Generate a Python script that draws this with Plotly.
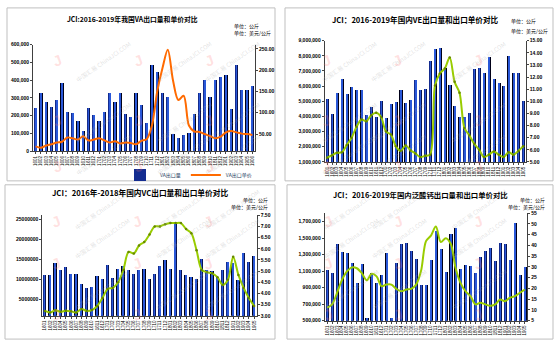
import plotly.graph_objects as go

W, H = 558, 347

# ---------------- data ----------------
months = ["1601", "1602", "1603", "1604", "1605", "1606", "1607", "1608", "1609", "1610", "1611", "1612",
          "1701", "1702", "1703", "1704", "1705", "1706", "1707", "1708", "1709", "1710", "1711", "1712",
          "1801", "1802", "1803", "1804", "1805", "1806", "1807", "1808", "1809", "1810", "1811", "1812",
          "1901", "1902", "1903", "1904", "1905", "1906"]

# VA
va_qty = [245000, 327000, 277000, 250000, 292000, 384000, 222000, 215000, 171000, 117000, 248000, 204000,
          170000, 222000, 327000, 278000, 327000, 211000, 194000, 328000, 262000, 162000, 488000, 448000,
          332000, 305000, 100000, 77000, 92000, 107000, 210000, 327000, 404000, 308000, 404000, 419000,
          432000, 240000, 487000, 349000, 349000, 367000]
va_price = [21, 18, 23, 26, 30, 32, 42, 40, 37, 45, 35, 37,
            40, 35, 30, 33, 28, 30, 29, 26, 34, 38, 70, 150,
            205, 248, 175, 130, 140, 70, 56, 55, 50, 45, 40, 44,
            54, 57, 54, 51, 50, 48]

# VE
ve_qty = [5200000, 4200000, 5550000, 6500000, 5500000, 5950000, 5800000, 5750000, 4150000, 4650000, 4000000, 5050000,
          3900000, 4850000, 4950000, 5750000, 4900000, 5100000, 6400000, 5750000, 5850000, 7700000, 8450000, 8520000,
          7200000, 6080000, 4700000, 4000000, 4000000, 4250000, 7150000, 7230000, 6900000, 7950000, 6500000, 6250000,
          6050000, 8030000, 6900000, 6900000, 5030000]
ve_price = [5.35, 5.55, 5.75, 5.8, 6.4, 7.0, 7.9, 8.5, 8.35, 8.85, 9.05, 8.7,
            7.5, 7.25, 6.3, 5.9, 6.35, 5.95, 5.7, 5.4, 5.5, 5.6, 11.3, 12.3,
            12.7, 13.6, 11.6, 10.7, 7.8, 7.2, 6.5, 6.0, 5.4, 5.6, 5.85, 5.6,
            5.4, 5.8, 5.6, 5.9, 6.3]

# VC
vc_qty = [11200000, 11100000, 14000000, 12200000, 13000000, 11300000, 11400000, 8900000, 7800000, 8200000, 10800000, 10200000,
          13600000, 10400000, 12600000, 13200000, 12200000, 11300000, 12400000, 12600000, 10200000, 11300000, 13200000, 14800000,
          12600000, 24200000, 12200000, 11200000, 10600000, 10100000, 15000000, 12400000, 12000000, 10600000, 12400000, 14400000,
          14000000, 9800000, 16600000, 14400000, 15700000]
vc_price = [3.22, 3.15, 3.25, 3.18, 3.23, 3.2, 3.15, 3.3, 3.22, 3.26, 3.44, 3.8,
            4.2, 4.25, 4.5, 5.05, 5.86, 5.79, 6.15, 6.3, 6.64, 7.0, 7.0, 7.1,
            7.15, 7.15, 7.15, 6.88, 6.7, 5.93, 5.05, 4.95, 4.9, 4.73, 4.38, 4.61,
            5.64, 4.83, 4.25, 3.8, 3.44]

# 泛酸钙
ca_qty = [1114000, 1074000, 1431000, 1332000, 1320000, 1201000, 955000, 1185000, 525000, 1074000, 955000, 1055000,
          1312000, 525000, 1201000, 1431000, 1443000, 1344000, 1243000, 926000, 924000, 1233000, 1577000, 1360000,
          1086000, 1541000, 1617000, 1125000, 1169000, 1161000, 1074000, 1272000, 1339000, 1379000, 1220000, 1439000,
          1423000, 1233000, 1681000, 1047000, 1150000]
ca_price = [11.1, 12.6, 18.0, 24.0, 27.9, 29.8, 29.4, 27.1, 23.8, 26.8, 25.6, 21.0,
            21.8, 21.8, 19.8, 18.7, 19.5, 19.8, 21.8, 28.2, 42.0, 44.6, 48.8, 41.6,
            43.4, 40.8, 29.4, 22.5, 18.7, 16.4, 12.6, 13.4, 12.6, 11.9, 12.6, 14.9,
            14.1, 15.7, 16.4, 18.0, 19.5]

titles = ["JCI:2016-2019年我国VA出口量和单价对比",
          "JCI：2016-2019年国内VE出口量和出口单价对比",
          "JCI：2016年-2018年国内VC出口量和出口单价对比",
          "JCI：2016-2019年国内泛酸钙出口量和出口单价对比"]
unit_qty = "单位：公斤"
unit_price = "单位：美元/公斤"
watermark = "中国汇易 ChinaJCI.COM"

ORANGE = "#FF6A00"
GREEN = "#99CC00"

fig = go.Figure()


def fx(p):
    return p / W


def fy(p):
    return 1 - p / H


# plot-area pixel boxes: (left, right, top, bottom)
panels = [
    dict(box=(33, 255, 42.3, 150.7), qty=va_qty, price=va_price, color=ORANGE, markers=False,
         yl=dict(range=[0, 600000], dtick=100000, tickformat=","),
         yr=dict(range=[10, 260], dtick=50, tickformat=".2f"),
         names=("VA出口量", "VA出口单价")),
    dict(box=(324.7, 525.7, 38.3, 161.7), qty=ve_qty, price=ve_price, color=GREEN, markers=True,
         yl=dict(range=[1000000, 9000000], dtick=1000000, tickformat=","),
         yr=dict(range=[5, 15], dtick=1, tickformat=".2f"),
         names=("出口量", "出口单价")),
    dict(box=(42.3, 256.7, 216, 318.3), qty=vc_qty, price=vc_price, color=GREEN, markers=True,
         yl=dict(range=[1000000, 26000000], dtick=5000000, tickformat="d"),
         yr=dict(range=[3, 7.5], dtick=0.5, tickformat=".2f"),
         names=("出口量", "出口单价")),
    dict(box=(324.7, 527.3, 213.9, 323.3), qty=ca_qty, price=ca_price, color=GREEN, markers=False,
         yl=dict(range=[500000, 1800000], tickvals=[500000, 700000, 900000, 1100000, 1300000, 1500000, 1700000],
                 tickformat=","),
         yr=dict(range=[5, 55], dtick=5, tickformat="d"),
         names=("出口量", "出口单价")),
]

tick_font = dict(family="Liberation Sans, Arial", size=5, color="#000000", weight="bold")
# layered bars give a dark-edged, blue-centred column
layers = [(0.62, "#000018"), (0.46, "#0a1450"), (0.3, "#142c90"), (0.14, "#2a58d8")]

layout_axes = {}
for i, p in enumerate(panels):
    k = i + 1
    xa = "x" if k == 1 else f"x{k}"
    yl = f"y{2 * k - 1}" if k > 1 else "y"
    yr = f"y{2 * k}"
    n = len(p["qty"])
    xs = list(range(1, n + 1))
    for j, (w, c) in enumerate(layers):
        fig.add_trace(go.Bar(x=xs, y=p["qty"], width=w, marker=dict(color=c, line=dict(width=0)),
                             xaxis=xa, yaxis=yl, name=p["names"][0],
                             showlegend=(k == 1 and j == 2), legendgroup=f"q{k}"))
    fig.add_trace(go.Scatter(x=xs, y=p["price"], mode="lines+markers" if p["markers"] else "lines",
                             line=dict(color=p["color"], width=2, shape="spline", smoothing=0.9),
                             marker=dict(size=2.5, color="#668800"),
                             xaxis=xa, yaxis=yr, name=p["names"][1], showlegend=(k == 1)))
    L, R, T, B = p["box"]
    xkey = "xaxis" if k == 1 else f"xaxis{k}"
    ylkey = "yaxis" if k == 1 else f"yaxis{2 * k - 1}"
    yrkey = f"yaxis{2 * k}"
    layout_axes[xkey] = dict(domain=[fx(L), fx(R)], anchor=yl, range=[0.5, n + 0.5],
                             tickvals=xs, ticktext=months[:n], tickangle=-90,
                             tickfont=dict(family="Liberation Sans, Arial", size=4.5, color="#000"),
                             showline=True, linecolor="#404040", linewidth=1, ticks="outside", ticklen=2,
                             showgrid=False, zeroline=False, fixedrange=True)
    layout_axes[ylkey] = dict(domain=[fy(B), fy(T)], anchor=xa, showline=True, linecolor="#404040",
                              linewidth=1, ticks="outside", ticklen=2, showgrid=False, zeroline=False,
                              tickfont=tick_font, **p["yl"])
    layout_axes[yrkey] = dict(domain=[fy(B), fy(T)], anchor=xa, overlaying=yl, side="right",
                              showline=True, linecolor="#404040", linewidth=1, ticks="outside", ticklen=2,
                              showgrid=False, zeroline=False, tickfont=tick_font, **p["yr"])

# panel frames
frames = [(7, 5, 275, 181), (285, 5, 553, 181), (5, 185, 275, 342), (287, 185, 553, 342)]
shapes = [dict(type="rect", xref="paper", yref="paper", x0=fx(a), y0=fy(d), x1=fx(c), y1=fy(b),
               line=dict(color="#BFBFBF", width=1), layer="below") for a, b, c, d in frames]

annotations = []

# faint diagonal watermark marks behind the charts
for (a, b, c, d) in frames:
    for cx in (0.22, 0.52, 0.82):
        for cy in (0.2, 0.55, 0.88):
            x = a + (c - a) * cx
            y = b + (d - b) * cy
            annotations.append(dict(text="J", x=fx(x - 18), y=fy(y + 6), xref="paper", yref="paper",
                                    showarrow=False, textangle=-20,
                                    font=dict(family="Liberation Sans", size=15, weight="bold",
                                              color="rgba(255,120,120,0.22)")))
            annotations.append(dict(text=watermark, x=fx(x + 6), y=fy(y - 6), xref="paper", yref="paper",
                                    showarrow=False, textangle=-35,
                                    font=dict(family="Noto Sans CJK SC", size=6,
                                              color="rgba(170,170,170,0.35)")))

# titles and unit notes
title_pos = [(132, 16, 6.8), (415, 17, 7.6), (140, 193, 7.7), (420, 195, 7.4)]
for t, (x, y, s) in zip(titles, title_pos):
    annotations.append(dict(text=t, x=fx(x), y=fy(y), xref="paper", yref="paper", showarrow=False,
                            xanchor="center", yanchor="middle",
                            font=dict(family="Noto Sans CJK SC", size=s, color="#000", weight="bold")))
unit_pos = [(232, "left", 23, 31), (509, "left", 18, 28), (270, "right", 200, 208), (547, "right", 200, 208)]
for (x, anchor, y1, y2) in unit_pos:
    for txt, yy in ((unit_qty, y1), (unit_price, y2)):
        annotations.append(dict(text=txt, x=fx(x), y=fy(yy), xref="paper", yref="paper", showarrow=False,
                                xanchor=anchor, yanchor="middle",
                                font=dict(family="Noto Sans CJK SC", size=5, color="#000")))

fig.update_layout(
    width=W, height=H, margin=dict(l=0, r=0, t=0, b=0),
    paper_bgcolor="white", plot_bgcolor="rgba(0,0,0,0)",
    barmode="overlay", bargap=0,
    shapes=shapes, annotations=annotations,
    legend=dict(orientation="h", x=fx(120), y=fy(175), xanchor="left", yanchor="middle",
                font=dict(family="Noto Sans CJK SC", size=5), bgcolor="rgba(0,0,0,0)",
                itemwidth=30, tracegroupgap=0),
    **layout_axes,
)

fig.write_html("out.html")
